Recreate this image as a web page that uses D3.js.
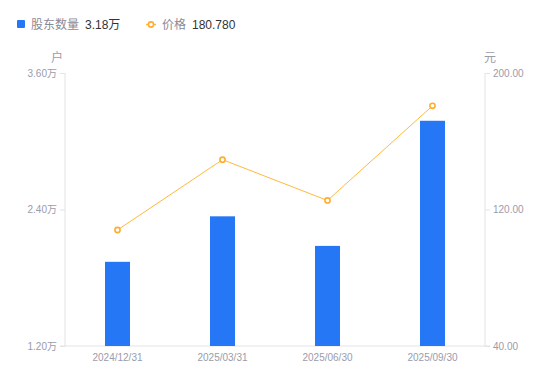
<!DOCTYPE html>
<html>
<head>
<meta charset="utf-8">
<script src="https://cdn.jsdelivr.net/npm/d3@7"></script>
<style>
  body { margin: 0; background: #fff; font-family: "Liberation Sans", "Noto Sans CJK SC", sans-serif; }
</style>
</head>
<body>
<script>
// data
var dates = ["2024/12/31", "2025/03/31", "2025/06/30", "2025/09/30"];
var holders = [1.94, 2.34, 2.08, 3.18];   // 万户
var prices = [108.0, 149.2, 125.3, 180.78]; // 元
var leftTicks = [1.2, 2.4, 3.6];
var rightTicks = [40, 120, 200];

var width = 550, height = 381;
var margin = { top: 73, right: 65, bottom: 35, left: 65 };
var w = width - margin.left - margin.right,
    h = height - margin.top - margin.bottom;

var svg = d3.select("body").append("svg")
    .attr("width", width)
    .attr("height", height);

var g = svg.append("g")
    .attr("transform", "translate(" + margin.left + "," + margin.top + ")");

var x = d3.scaleBand().domain(dates).range([0, w]);
var yL = d3.scaleLinear().domain([1.2, 3.6]).range([h, 0]);
var yR = d3.scaleLinear().domain([40, 200]).range([h, 0]);

var axisColor = "#e3e3e8", labelColor = "#9b9bab";

// left axis
var left = g.append("g")
    .call(d3.axisLeft(yL).tickValues(leftTicks).tickSize(5).tickPadding(3)
        .tickFormat(function (d) { return d.toFixed(2) + "万"; }));
// right axis
var right = g.append("g")
    .attr("transform", "translate(" + w + ",0)")
    .call(d3.axisRight(yR).tickValues(rightTicks).tickSize(5).tickPadding(3)
        .tickFormat(function (d) { return d.toFixed(2); }));
// x axis
var bottom = g.append("g")
    .attr("transform", "translate(0," + h + ")")
    .call(d3.axisBottom(x).tickSize(0).tickPadding(8));

[left, right, bottom].forEach(function (a) {
    a.select(".domain").attr("stroke", axisColor);
    a.selectAll(".tick line").attr("stroke", axisColor);
    a.selectAll("text")
        .attr("fill", labelColor)
        .style("font-size", "10px")
        .style("font-family", "'Liberation Sans', 'Noto Sans CJK SC', sans-serif");
});
left.select(".domain").attr("d", "M0," + h + "V0");
right.select(".domain").attr("d", "M0," + h + "V0");
bottom.select(".domain").attr("d", "M-5,0H" + (w + 5));

// units
g.append("text").attr("x", -2).attr("y", -11)
    .attr("text-anchor", "end").attr("fill", labelColor)
    .style("font-size", "12px").style("font-family", "'Noto Sans CJK SC', sans-serif").text("户");
g.append("text").attr("x", w - 1).attr("y", -11)
    .attr("text-anchor", "start").attr("fill", labelColor)
    .style("font-size", "12px").style("font-family", "'Noto Sans CJK SC', sans-serif").text("元");

// bars
var barW = 25;
g.selectAll(".bar")
    .data(holders)
    .enter().append("rect")
    .attr("class", "bar")
    .attr("x", function (d, i) { return x(dates[i]) + x.bandwidth() / 2 - barW / 2; })
    .attr("y", function (d) { return yL(d); })
    .attr("width", barW)
    .attr("height", function (d) { return h - yL(d); })
    .attr("fill", "#2677f5");

// price line
var line = d3.line()
    .x(function (d, i) { return x(dates[i]) + x.bandwidth() / 2; })
    .y(function (d) { return yR(d); });

g.append("path")
    .datum(prices)
    .attr("fill", "none")
    .attr("stroke", "#ffb940")
    .attr("stroke-width", 1)
    .attr("d", line);

g.selectAll(".pt")
    .data(prices)
    .enter().append("circle")
    .attr("class", "pt")
    .attr("cx", function (d, i) { return x(dates[i]) + x.bandwidth() / 2; })
    .attr("cy", function (d) { return yR(d); })
    .attr("r", 2.6)
    .attr("fill", "#fff")
    .attr("stroke", "#ffad2e")
    .attr("stroke-width", 1.6);

// legend
var leg = svg.append("g").style("font-size", "12px");
leg.append("rect").attr("x", 17).attr("y", 20).attr("width", 8).attr("height", 8)
    .attr("rx", 1).attr("fill", "#2677f5");
leg.append("text").attr("x", 31).attr("y", 28.5).attr("fill", "#8a8a96").text("股东数量");
leg.append("text").attr("x", 85).attr("y", 28.5).attr("fill", "#333")
    .text(holders[3].toFixed(2) + "万");

leg.append("line").attr("x1", 146).attr("x2", 156).attr("y1", 24.5).attr("y2", 24.5)
    .attr("stroke", "#ffb940").attr("stroke-width", 1.5);
leg.append("circle").attr("cx", 151).attr("cy", 24.5).attr("r", 2.6)
    .attr("fill", "#fff").attr("stroke", "#ffad2e").attr("stroke-width", 1.6);
leg.append("text").attr("x", 162).attr("y", 28.5).attr("fill", "#8a8a96").text("价格");
leg.append("text").attr("x", 192).attr("y", 28.5).attr("fill", "#333")
    .text(prices[3].toFixed(3));
</script>
</body>
</html>
